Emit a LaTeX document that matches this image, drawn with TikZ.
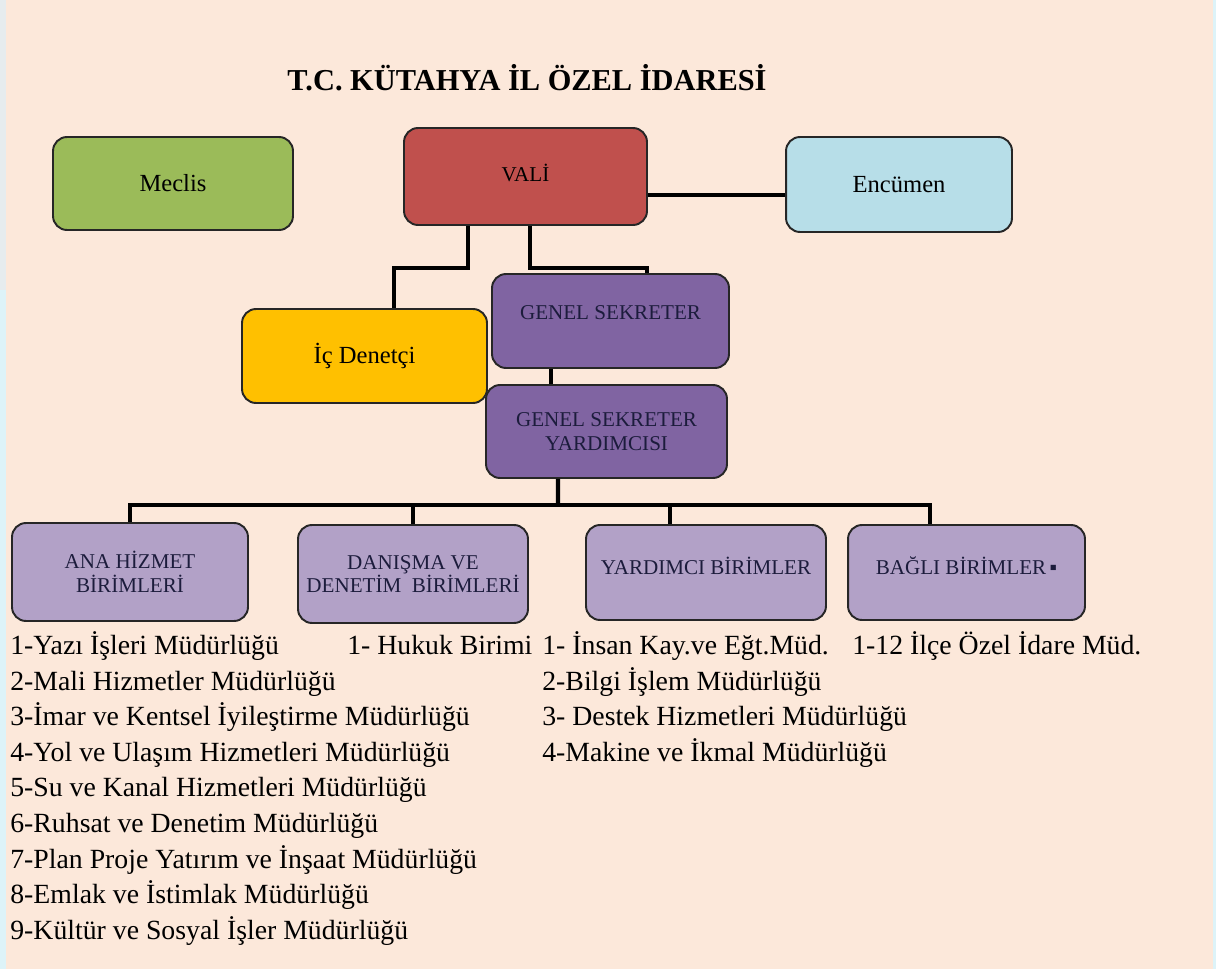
\documentclass[tikz,border=0pt]{standalone}
\usepackage{fontspec}
\setmainfont{Liberation Serif}

\definecolor{bgpeach}{HTML}{FCE8DA}
\definecolor{edgeblue}{HTML}{DDF3F8}
\definecolor{meclisgreen}{HTML}{9BBB59}
\definecolor{valired}{HTML}{C0504D}
\definecolor{encblue}{HTML}{B7DEE8}
\definecolor{denetgold}{HTML}{FFC000}
\definecolor{sekpurple}{HTML}{8064A2}
\definecolor{birlilac}{HTML}{B2A1C7}
\definecolor{navytext}{HTML}{1C1C3C}

\begin{document}
\begin{tikzpicture}[x=0.02cm,y=-0.02cm,
  box/.style={draw=black!85, line width=1.1pt, rounded corners=0.28cm, align=center, inner sep=2pt},
  small/.style={font=\fontsize{12}{13.6}\selectfont},
  big/.style={font=\fontsize{14}{16}\selectfont},
  link/.style={line width=2.3pt},
  item/.style={anchor=west, inner sep=0pt, font=\fontsize{15.8}{18}\selectfont, text height=11pt, text depth=3.5pt}]

  % background
  \fill[bgpeach] (0,0) rectangle (1216,969);
  \fill[edgeblue] (0,0) rectangle (6,969);
  \fill[edgeblue!70!gray!40] (0,0) rectangle (6,290);
  \fill[edgeblue] (1213,0) rectangle (1216,969);

  \node[font=\bfseries\fontsize{17.3}{20}\selectfont] (title) at (527,78) {T.C. KÜTAHYA İL ÖZEL İDARESİ};

  % top level
  \node[box, big, fill=meclisgreen, minimum width=4.8cm, minimum height=1.86cm] (meclis) at (173,183.5) {Meclis};
  \node[box, small, fill=valired, minimum width=4.86cm, minimum height=1.94cm, text depth=4pt] (vali) at (525.5,176.5) {VALİ};
  \node[box, big, fill=encblue, minimum width=4.52cm, minimum height=1.9cm] (enc) at (899,184.5) {Encümen};
  \node[box, big, fill=denetgold, minimum width=4.9cm, minimum height=1.88cm] (icd) at (364.5,356) {İç Denetçi};
  \node[box, small, fill=sekpurple, text=navytext, minimum width=4.74cm, minimum height=1.88cm, text depth=10pt] (gs) at (610.5,321) {GENEL SEKRETER};
  \node[box, small, fill=sekpurple, text=navytext, minimum width=4.82cm, minimum height=1.86cm] (gsy) at (606.5,431.5) {GENEL SEKRETER\\YARDIMCISI};

  % units
  \node[box, small, fill=birlilac, text=navytext, minimum width=4.72cm, minimum height=1.96cm] (ana) at (130,572) {ANA HİZMET\\BİRİMLERİ};
  \node[box, small, fill=birlilac, text=navytext, minimum width=4.6cm, minimum height=1.96cm] (dan) at (413,574) {DANIŞMA VE\\DENETİM\ \ BİRİMLERİ};
  \node[box, small, fill=birlilac, text=navytext, minimum width=4.8cm, minimum height=1.9cm, text depth=8pt] (yrd) at (706,572.5) {YARDIMCI BİRİMLER};
  \node[box, small, fill=birlilac, text=navytext, minimum width=4.74cm, minimum height=1.9cm, text depth=8pt] (bag) at (966.5,572.5) {BAĞLI BİRİMLER\,▪};

  % connectors
  \draw[link] ([yshift=-0.37cm]vali.east) -- ([yshift=-0.37cm]vali.east -| enc.west);
  \draw[link] ([xshift=-1.15cm]vali.south) -- ++(0,42) -| ([xshift=0.59cm]icd.north);
  \draw[link] ([xshift=0.09cm]vali.south) -- ++(0,42) -| ([xshift=0.73cm]gs.north);
  \draw[link] ([xshift=-1.19cm]gs.south) -- ([xshift=-1.19cm]gs.south |- gsy.north);
  \coordinate (bus) at (558,505);
  \draw[link] ([xshift=-0.97cm]gsy.south) -- (bus);
  \draw[link] (ana.north) |- (bus) -| ([xshift=-0.73cm]bag.north);
  \draw[link] (dan.north) -- (dan.north |- bus);
  \draw[link] ([xshift=-0.72cm]yrd.north) -- ([xshift=-0.72cm]yrd.north |- bus);

  % lists
  \foreach \t [count=\i] in {1-Yazı İşleri Müdürlüğü, 2-Mali Hizmetler Müdürlüğü,
      3-İmar ve Kentsel İyileştirme Müdürlüğü, 4-Yol ve Ulaşım Hizmetleri Müdürlüğü,
      5-Su ve Kanal Hizmetleri Müdürlüğü, 6-Ruhsat ve Denetim Müdürlüğü,
      7-Plan Proje Yatırım ve İnşaat Müdürlüğü, 8-Emlak ve İstimlak Müdürlüğü,
      9-Kültür ve Sosyal İşler Müdürlüğü}
    \node[item] (ana-\i) at (10,{648+35.6*(\i-1)}) {\t};
  \node[item] (dan-1) at (347,648) {1- Hukuk Birimi};
  \foreach \t [count=\i] in {1- İnsan Kay.ve Eğt.Müd., 2-Bilgi İşlem Müdürlüğü,
      3- Destek Hizmetleri Müdürlüğü, 4-Makine ve İkmal Müdürlüğü}
    \node[item] (yrd-\i) at (542,{648+35.6*(\i-1)}) {\t};
  \node[item] (bag-1) at (852,648) {1-12 İlçe Özel İdare Müd.};
\end{tikzpicture}
\end{document}
